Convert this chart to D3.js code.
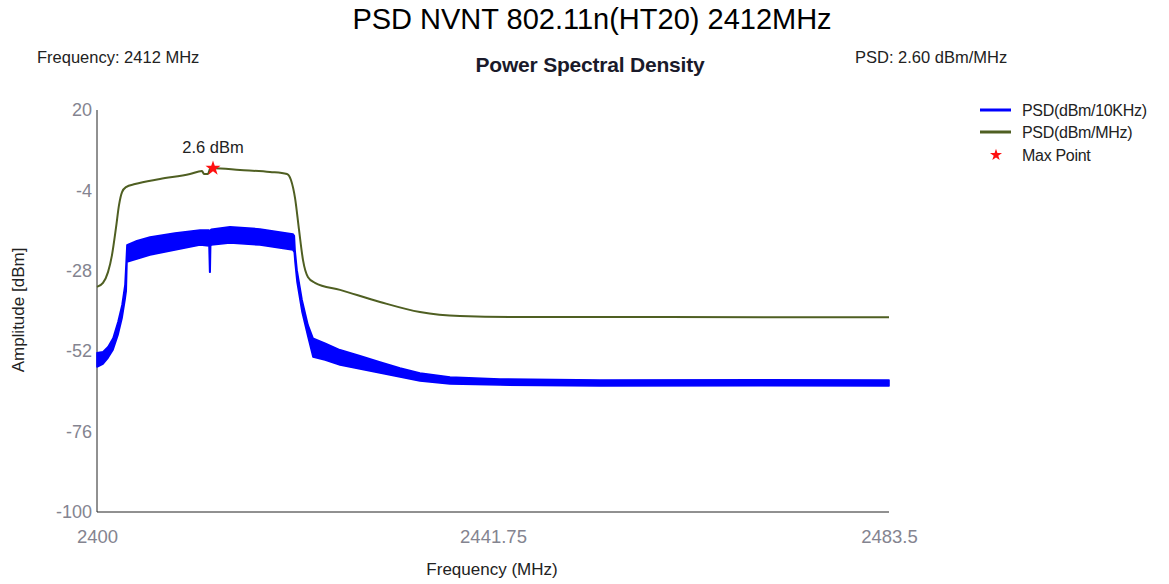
<!DOCTYPE html>
<html><head><meta charset="utf-8">
<script src="https://cdn.jsdelivr.net/npm/d3@7"></script>
<style>
html,body{margin:0;padding:0;background:#fff;}
svg{display:block;font-family:"Liberation Sans",Arial,sans-serif;}
</style></head>
<body>
<svg id="chart" width="1169" height="584"></svg>
<script>
// ---- data ----
const xTicks = [2400, 2441.75, 2483.5];
const yTicks = [20, -4, -28, -52, -76, -100];

// PSD (dBm/MHz) trace
const mhzFreq = [2400.00,2400.63,2401.16,2401.58,2402.00,2402.32,2402.64,2403.06,2404.01,2406.64,2409.80,2411.07,2411.28,2411.70,2411.91,2412.23,2415.08,2418.24,2420.03,2420.45,2420.88,2421.30,2421.72,2422.25,2422.98,2425.62,2429.84,2434.05,2438.27,2444.60,2460.00,2483.50];
const mhzPsd  = [-32.8,-31.6,-28.4,-23.3,-15.2,-8.4,-4.5,-3.0,-2.1,-0.6,0.9,1.8,0.9,0.9,2.4,2.6,2.1,1.5,0.9,-0.9,-6.3,-15.8,-24.8,-29.9,-31.6,-33.7,-37.3,-40.3,-41.5,-41.8,-41.8,-41.9];

// PSD (dBm/10KHz) trace, drawn as its noisy band: upper and lower envelope
const khzFreq = [2400.00,2400.63,2401.16,2401.69,2402.21,2402.64,2402.95,2403.08,2403.16,2404.20,2405.59,2408.22,2410.86,2411.81,2411.88,2411.93,2411.98,2412.05,2414.02,2417.18,2420.66,2420.80,2420.88,2421.09,2421.62,2422.25,2422.77,2424.04,2425.62,2427.73,2429.84,2431.95,2434.05,2437.22,2442.49,2453.03,2470.00,2483.50];
const khzHi   = [-52.5,-52.2,-50.7,-48.1,-43.3,-38.2,-32.2,-25.0,-20.3,-19.0,-17.9,-16.7,-15.8,-15.8,-18.8,-18.8,-15.8,-15.6,-14.9,-15.5,-17.0,-17.5,-21.8,-27.8,-36.7,-44.2,-48.1,-49.6,-51.6,-53.4,-55.2,-57.0,-58.5,-59.7,-60.3,-60.6,-60.5,-60.6];
const khzLo   = [-56.7,-55.8,-54.0,-51.6,-47.2,-42.1,-36.7,-34.0,-25.4,-24.5,-23.3,-21.8,-20.3,-20.6,-28.4,-28.4,-20.6,-20.3,-19.7,-20.3,-21.8,-22.5,-25.4,-31.3,-40.3,-47.8,-53.7,-54.6,-56.1,-57.3,-58.5,-59.7,-60.9,-61.8,-62.1,-62.4,-62.3,-62.4];

const maxFreq = 2412.23, maxPsd = 2.6;
const legendLabels = ["PSD(dBm/10KHz)", "PSD(dBm/MHz)", "Max Point"];

// ---- drawing ----
const svg = d3.select("#chart");
const x = d3.scaleLinear().domain([2400, 2483.5]).range([97, 889]);
const y = d3.scaleLinear().domain([-100, 20]).range([512, 110]);
const blue = "#0000ff", olive = "#4f5f22", tickGray = "#848490";

// titles
svg.append("text").attr("x", 592).attr("y", 29).attr("text-anchor", "middle")
  .attr("font-size", 29).attr("fill", "#000").text("PSD NVNT 802.11n(HT20) 2412MHz");
svg.append("text").attr("x", 590).attr("y", 72).attr("text-anchor", "middle")
  .attr("font-size", 21).attr("font-weight", "bold").attr("fill", "#1a1a2a")
  .attr("letter-spacing", -0.2).text("Power Spectral Density");
svg.append("text").attr("x", 37).attr("y", 63).attr("font-size", 16.5).attr("fill", "#222")
  .text("Frequency: 2412 MHz");
svg.append("text").attr("x", 855).attr("y", 63).attr("font-size", 16.5).attr("fill", "#222")
  .text("PSD: 2.60 dBm/MHz");

// axes
const yAxis = d3.axisLeft(y).tickValues(yTicks).tickSize(0).tickFormat(d => String(d));
const gy = svg.append("g").attr("transform", "translate(97,0)").call(yAxis);
gy.select(".domain").attr("stroke", "#222").attr("d", "M0,110V512");
gy.selectAll(".tick text").attr("font-size", 18).attr("fill", tickGray).attr("x", -5)
  .attr("font-family", "Liberation Sans, Arial, sans-serif");

const xAxis = d3.axisBottom(x).tickValues(xTicks).tickSize(0).tickFormat(d => String(d));
const gx = svg.append("g").attr("transform", "translate(0,512)").call(xAxis);
gx.select(".domain").attr("stroke", "#222").attr("d", "M97,0H889");
gx.selectAll(".tick text").attr("font-size", 18.5).attr("fill", tickGray).attr("y", 31).attr("dy", 0)
  .attr("font-family", "Liberation Sans, Arial, sans-serif");

svg.append("text").attr("transform", "translate(24,310) rotate(-90)").attr("text-anchor", "middle")
  .attr("font-size", 17).attr("fill", "#222").text("Amplitude [dBm]");
svg.append("text").attr("x", 492).attr("y", 575).attr("text-anchor", "middle")
  .attr("font-size", 17).attr("fill", "#222").text("Frequency (MHz)");

// 10 kHz band
const band = khzFreq.map((f, i) => ({f, hi: khzHi[i], lo: khzLo[i]}));
svg.append("path").datum(band)
  .attr("d", d3.area().x(d => x(d.f)).y0(d => y(d.lo)).y1(d => y(d.hi)))
  .attr("fill", blue).attr("stroke", blue).attr("stroke-width", 1.6).attr("stroke-linejoin", "round");

// MHz line
const mhz = mhzFreq.map((f, i) => ({f, v: mhzPsd[i]}));
svg.append("path").datum(mhz)
  .attr("d", d3.line().x(d => x(d.f)).y(d => y(d.v)).curve(d3.curveMonotoneX))
  .attr("fill", "none").attr("stroke", olive).attr("stroke-width", 2);

// max point
const star = d3.symbol().type(d3.symbolStar).size(70);
svg.append("path").attr("d", star()).attr("fill", "#ff1010")
  .attr("transform", `translate(${x(maxFreq)},${y(maxPsd)})`);
svg.append("text").attr("x", x(maxFreq)).attr("y", y(maxPsd) - 15).attr("text-anchor", "middle")
  .attr("font-size", 16.5).attr("fill", "#222").text(maxPsd + " dBm");

// legend
const lg = svg.append("g");
const rows = [110, 132, 155];
lg.append("line").attr("x1", 980).attr("x2", 1011).attr("y1", rows[0]).attr("y2", rows[0]).attr("stroke", blue).attr("stroke-width", 3);
lg.append("line").attr("x1", 980).attr("x2", 1011).attr("y1", rows[1]).attr("y2", rows[1]).attr("stroke", olive).attr("stroke-width", 3);
lg.append("path").attr("d", d3.symbol().type(d3.symbolStar).size(45)()).attr("fill", "#ff1010")
  .attr("transform", `translate(996,${rows[2]})`);
legendLabels.forEach((t, i) => {
  lg.append("text").attr("x", 1022).attr("y", rows[i] + 6).attr("font-size", 16).attr("fill", "#222")
    .attr("letter-spacing", -0.3).text(t);
});
</script>
</body></html>
